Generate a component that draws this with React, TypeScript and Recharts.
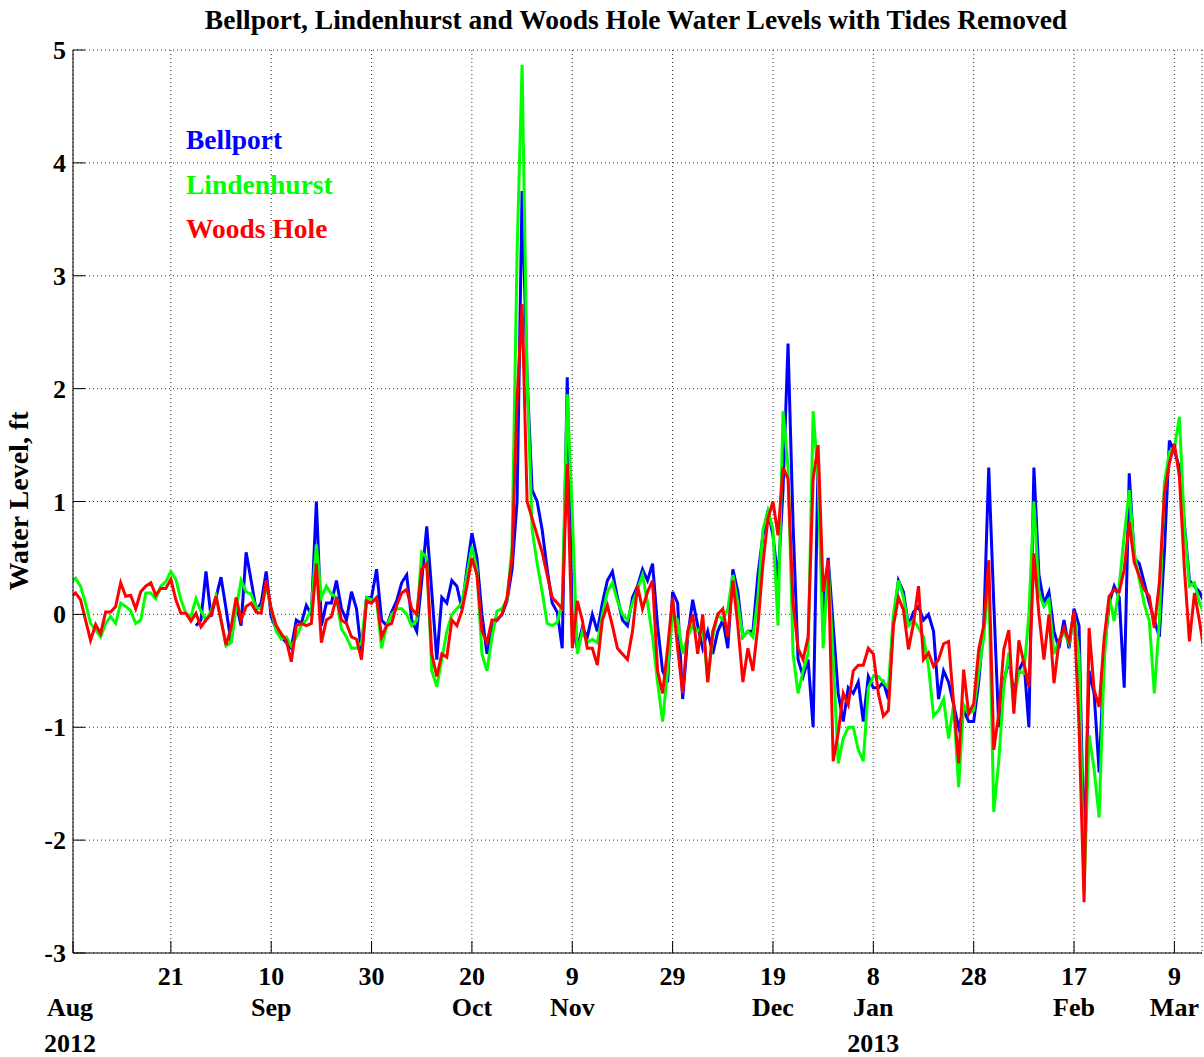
import React from 'react';
import { LineChart, Line, XAxis, YAxis, CartesianGrid, Legend } from 'recharts';

// daily samples, day 0 = 1 Aug 2012
const bellport = [
  null, null, null, null, null, null, null, null, null, null, null, null, null, null, null, null,
  null, null, null, null, null, null, null, null, null, -0.1, -0.05, 0.38, -0.02, 0.15, 0.33, 0.05,
  // Sep
  -0.25, 0.1, -0.1, 0.55, 0.3, 0.04, 0.1, 0.38, -0.02, -0.13, -0.2, -0.25, -0.3, -0.05, -0.08, 0.08,
  0.0, 1.0, -0.1, 0.1, 0.1, 0.3, 0.05, -0.05, 0.2, 0.05, -0.35, 0.15, 0.15, 0.4, -0.05,
  // Oct
  -0.1, 0.02, 0.12, 0.28, 0.35, -0.05, -0.15, 0.3, 0.78, 0.2, -0.4, 0.15, 0.1, 0.3, 0.25, 0.05,
  0.4, 0.72, 0.5, 0.0, -0.35, -0.1, -0.05, 0.0, 0.12, 0.4, 1.0,
  3.75, 2.1, 1.1, 1.0, 0.75, 0.4, 0.1, 0.02, -0.3, 2.1, -0.1, -0.3, -0.12, -0.2, 0.0, -0.15,
  // Nov
  0.1, 0.3, 0.38, 0.15, -0.05, -0.1, 0.15, 0.25, 0.4, 0.3, 0.45, -0.1, -0.5, -0.6, 0.2, 0.1, -0.75,
  -0.2, 0.13, -0.1, -0.3, -0.15, -0.35, -0.15, -0.05, -0.3, 0.4, 0.2, -0.2, -0.15, -0.15, 0.35, 0.7, 0.92,
  // Dec
  0.7, 0.3, 1.1, 2.4, 0.8, -0.4, -0.55, -0.4, -1.0, 1.4, -0.05, 0.5, -0.1, -0.7, -0.95, -0.65,
  -0.7, -0.6, -0.95, -0.55, -0.65, -0.65, -0.6, -0.75, -0.05, 0.3,
  // Jan
  0.2, -0.1, 0.02, 0.07, -0.05, 0.0, -0.15, -0.75, -0.5, -0.6, -0.8, -1.0, -0.85, -0.95, -0.95,
  -0.6, -0.1, 1.3, 0.1, -1.0, -0.6, -0.4, -0.7, -0.5, -0.4, -1.0, 1.3, 0.35, 0.1, 0.2,
  // Feb / Mar
  -0.15, -0.3, -0.05, -0.3, 0.05, -0.1, -2.15, -0.5, -0.7, -1.4, -0.35, 0.1, 0.25, 0.15, -0.65, 1.25,
  0.5, 0.45, 0.28, 0.1, -0.05, -0.2, 0.55, 1.54, 1.45, 1.3, 0.8, 0.3, 0.25, 0.2, 0.1,
];

const lindenhurst = [
  0.28, 0.32, 0.25, 0.1, -0.08, -0.14, -0.2, -0.08, -0.02, -0.08, 0.1, 0.07, 0.03, -0.08, -0.05, 0.19,
  0.19, 0.14, 0.25, 0.29, 0.38, 0.31, 0.13, 0.01, -0.02, 0.14, 0.03, -0.05, 0.03, 0.16, -0.05, -0.28,
  -0.25, 0.05, 0.3, 0.2, 0.18, 0.06, 0.05, 0.25, 0.05, -0.15, -0.22, -0.2, -0.28, -0.2, -0.1, -0.05,
  0.05, 0.62, 0.15, 0.25, 0.18, 0.15, -0.13, -0.2, -0.3, -0.3, -0.25, 0.15, 0.13, 0.13, -0.3,
  -0.1, 0.0, 0.05, 0.05, 0.0, -0.1, -0.05, 0.55, 0.5, -0.5, -0.64, -0.4, -0.15, 0.0, 0.05, 0.1,
  0.35, 0.6, 0.4, -0.35, -0.5, -0.2, 0.03, 0.05, 0.13, 0.6, 3.2,
  4.87, 2.1, 0.75, 0.45, 0.2, -0.08, -0.1, -0.07, 0.1, 1.95, 0.9, -0.35, -0.15, -0.25, -0.22, -0.25,
  0.0, 0.2, 0.28, 0.12, 0.0, -0.05, 0.1, 0.22, 0.35, 0.1, -0.2, -0.6, -0.95, -0.5, 0.0, -0.05, -0.35,
  -0.2, -0.1, -0.15, -0.1, -0.6, -0.2, 0.0, -0.05, 0.05, 0.35, 0.1, -0.2, -0.15, -0.2, 0.15, 0.75, 0.92,
  0.75, -0.1, 1.8, 1.3, -0.35, -0.7, -0.5, -0.35, 1.8, 1.2, -0.3, 0.45, -0.4, -1.32, -1.1, -1.0,
  -1.0, -1.2, -1.3, -0.65, -0.55, -0.55, -0.6, -0.65, 0.0, 0.3,
  0.15, -0.1, -0.05, -0.12, -0.2, -0.46, -0.9, -0.85, -0.75, -1.1, -0.8, -1.53, -0.8, -0.88, -0.85,
  -0.52, -0.2, 0.3, -1.75, -1.3, -0.64, -0.34, -0.79, -0.5, -0.52, 0.0, 1.0, 0.19, 0.07, 0.13,
  -0.35, -0.24, -0.16, -0.26, 0.0, -0.36, -2.45, -1.07, -1.37, -1.8, -0.42, 0.16, -0.06, 0.25, 0.7, 1.1,
  0.55, 0.31, 0.09, -0.06, -0.7, -0.06, 1.16, 1.44, 1.47, 1.75, 0.77, 0.25, 0.28, 0.1, 0.0,
];

const woodsHole = [
  0.15, 0.19, 0.13, -0.05, -0.23, -0.09, -0.17, 0.02, 0.02, 0.07, 0.28, 0.16, 0.17, 0.05, 0.2, 0.25,
  0.28, 0.17, 0.23, 0.23, 0.31, 0.13, 0.01, 0.01, -0.06, 0.01, -0.11, -0.05, 0.0, 0.16, -0.05, -0.27,
  -0.12, 0.15, -0.05, 0.07, 0.1, 0.02, 0.01, 0.3, 0.05, -0.1, -0.17, -0.23, -0.42, -0.1, -0.08, -0.1,
  -0.08, 0.45, -0.25, -0.05, -0.02, 0.15, -0.05, -0.08, -0.2, -0.22, -0.4, 0.12, 0.1, 0.15, -0.2,
  -0.1, -0.08, 0.08, 0.19, 0.22, 0.05, 0.0, 0.4, 0.45, -0.35, -0.55, -0.35, -0.38, -0.05, -0.1, 0.03,
  0.25, 0.5, 0.35, -0.15, -0.25, -0.05, -0.05, 0.0, 0.15, 0.5, 1.9,
  2.75, 1.0, 0.85, 0.7, 0.55, 0.35, 0.15, 0.1, 0.05, 1.33, -0.3, 0.12, -0.05, -0.3, -0.3, -0.45,
  -0.05, 0.08, -0.1, -0.3, -0.35, -0.4, -0.15, 0.25, 0.05, 0.2, 0.3, -0.5, -0.7, -0.3, 0.15, -0.3, -0.7,
  -0.15, 0.0, -0.35, 0.0, -0.6, -0.15, 0.0, 0.05, -0.2, 0.3, -0.1, -0.6, -0.3, -0.5, -0.1, 0.45, 0.85,
  1.0, 0.7, 1.3, 1.2, 0.1, -0.3, -0.4, -0.2, 1.2, 1.5, 0.2, 0.48, -1.3, -1.05, -0.7, -0.8,
  -0.5, -0.45, -0.45, -0.3, -0.35, -0.7, -0.9, -0.85, -0.1, 0.15,
  0.04, -0.31, -0.08, 0.25, -0.4, -0.34, -0.46, -0.4, -0.26, -0.24, -0.79, -1.32, -0.49, -0.88, -0.79,
  -0.31, -0.1, 0.48, -1.2, -0.88, -0.31, -0.14, -0.88, -0.23, -0.43, -0.64, 0.54, 0.0, -0.4, 0.0,
  -0.61, -0.24, -0.12, -0.24, 0.03, -1.0, -2.55, -0.12, -0.67, -0.82, -0.21, 0.16, 0.22, 0.2, 0.4, 0.82,
  0.46, 0.34, 0.22, 0.16, -0.12, 0.28, 1.07, 1.34, 1.51, 1.22, 0.4, -0.24, 0.19, -0.06, -0.35,
];

const xTicks = [0.5, 20, 40, 60, 80, 100, 120, 140, 160, 180, 200, 220];
const dayLabels = ['', '21', '10', '30', '20', '9', '29', '19', '8', '28', '17', '9'];
const monthLabels = ['Aug', '', 'Sep', '', 'Oct', 'Nov', '', 'Dec', 'Jan', '', 'Feb', 'Mar'];
const yearLabels = ['2012', '', '', '', '', '', '', '', '2013', '', '', ''];
const yTicks = [-3, -2, -1, 0, 1, 2, 3, 4, 5];

const series = [
  { key: 'bellport', name: 'Bellport', color: '#0000ff' },
  { key: 'lindenhurst', name: 'Lindenhurst', color: '#00ff00' },
  { key: 'woodsHole', name: 'Woods Hole', color: '#ff0000' },
];

const rows = woodsHole.map((_, i) => ({
  day: i,
  bellport: bellport[i],
  lindenhurst: lindenhurst[i],
  woodsHole: woodsHole[i],
}));

const FONT = '"Liberation Serif", "Times New Roman", serif';
const TICK_LEN = 12;

const textProps = {
  fontFamily: FONT,
  fontSize: 26,
  fontWeight: 'bold' as const,
  fill: '#000',
  textAnchor: 'middle' as const,
};

const BottomTick = (props: any) => {
  const { x, y, payload } = props;
  const i = xTicks.indexOf(payload.value);
  const lx = i === 0 ? x - 3 : x;
  return (
    <g>
      <line x1={x} y1={y} x2={x} y2={y - TICK_LEN} stroke="#000" />
      {dayLabels[i] && <text {...textProps} x={lx} y={y + 32}>{dayLabels[i]}</text>}
      {monthLabels[i] && <text {...textProps} x={lx} y={y + 63}>{monthLabels[i]}</text>}
      {yearLabels[i] && <text {...textProps} x={lx} y={y + 99}>{yearLabels[i]}</text>}
    </g>
  );
};

const TopTick = (props: any) => {
  const { x, y } = props;
  return <line x1={x} y1={y} x2={x} y2={y + TICK_LEN} stroke="#000" />;
};

const LeftTick = (props: any) => {
  const { x, y, payload } = props;
  return (
    <g>
      <line x1={x} y1={y} x2={x + TICK_LEN} y2={y} stroke="#000" />
      <text {...textProps} textAnchor="end" x={x - 7} y={y + 9}>{payload.value}</text>
    </g>
  );
};

const RightTick = (props: any) => {
  const { x, y } = props;
  return <line x1={x} y1={y} x2={x - TICK_LEN} y2={y} stroke="#000" />;
};

const LegendBox = () => (
  <div style={{ fontFamily: FONT, fontSize: 27.5, fontWeight: 'bold', lineHeight: '44.5px' }}>
    {series.map((s) => (
      <div key={s.key} style={{ color: s.color, whiteSpace: 'nowrap' }}>{s.name}</div>
    ))}
  </div>
);

const App = () => {
  return (
    <div style={{ position: 'absolute', left: 0, top: 0, width: 1204, height: 1057, background: '#fff' }}>
      <LineChart width={1204} height={1057} data={rows} margin={{ top: 50, right: 2, bottom: 0, left: 0 }}>
        <CartesianGrid stroke="#333" strokeDasharray="1 3" />
        <XAxis
          dataKey="day"
          type="number"
          domain={[0.5, 225.5]}
          ticks={xTicks}
          allowDataOverflow
          height={104}
          tickSize={0}
          tickMargin={0}
          axisLine={{ stroke: '#000' }}
          tick={<BottomTick />}
          interval={0}
        />
        <XAxis
          xAxisId="top"
          orientation="top"
          type="number"
          domain={[0.5, 225.5]}
          ticks={xTicks}
          allowDataOverflow
          height={0}
          tickSize={0}
          tickMargin={0}
          axisLine={{ stroke: '#000' }}
          tick={<TopTick />}
          interval={0}
        />
        <YAxis
          type="number"
          domain={[-3, 5]}
          ticks={yTicks}
          allowDataOverflow
          width={73}
          tickSize={0}
          tickMargin={0}
          axisLine={{ stroke: '#000' }}
          tick={<LeftTick />}
          interval={0}
        />
        <YAxis
          yAxisId="right"
          orientation="right"
          type="number"
          domain={[-3, 5]}
          ticks={yTicks}
          allowDataOverflow
          width={0}
          tickSize={0}
          tickMargin={0}
          axisLine={{ stroke: '#000' }}
          tick={<RightTick />}
          interval={0}
        />
        <Legend
          layout="vertical"
          align="center"
          verticalAlign="middle"
          wrapperStyle={{ left: 186, top: 118, width: 'auto' }}
          content={<LegendBox />}
        />
        {series.map((s) => (
          <Line
            key={s.key}
            type="linear"
            dataKey={s.key}
            name={s.name}
            stroke={s.color}
            strokeWidth={3}
            dot={false}
            activeDot={false}
            isAnimationActive={false}
          />
        ))}
      </LineChart>
      <svg
        width={1204}
        height={1057}
        style={{ position: 'absolute', left: 0, top: 0, pointerEvents: 'none' }}
      >
        <text {...textProps} fontSize={27.5} x={636} y={29}>
          Bellport, Lindenhurst and Woods Hole Water Levels with Tides Removed
        </text>
        <text {...textProps} fontSize={28} transform="translate(28, 501) rotate(-90)" x={0} y={0}>
          Water Level, ft
        </text>
      </svg>
    </div>
  );
};

export default App;
